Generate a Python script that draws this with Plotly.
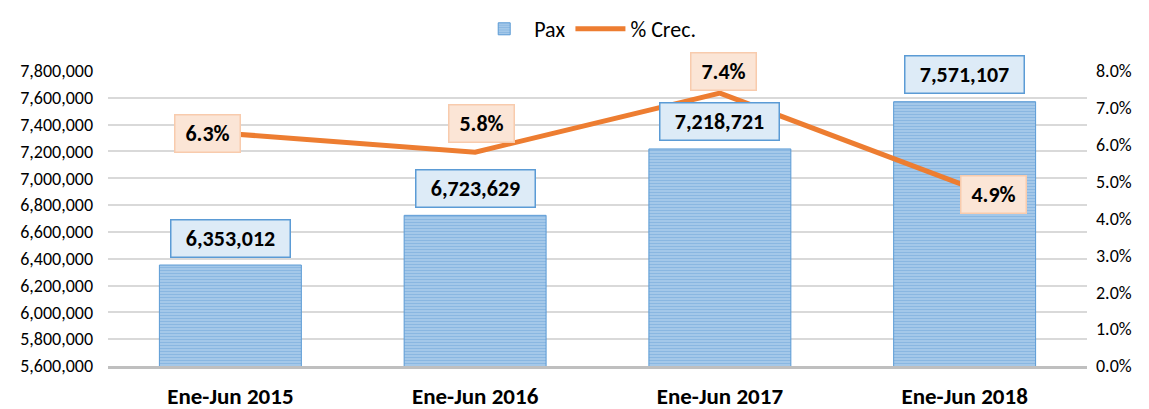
import plotly.graph_objects as go

categories = ["Ene-Jun 2015", "Ene-Jun 2016", "Ene-Jun 2017", "Ene-Jun 2018"]
pax = [6353012, 6723629, 7218721, 7571107]
crec = [0.063, 0.058, 0.074, 0.049]

left_ticks = list(range(5600000, 7800001, 200000))
right_ticks = [i / 100 for i in range(0, 9)]

FONT = "Carlito, Calibri, Lato, sans-serif"

fig = go.Figure()
fig.add_trace(go.Bar(
    x=categories, y=pax, name="Pax",
    marker=dict(
        color="#5B9BD5",
        line=dict(color="#5B9BD5", width=1),
        pattern=dict(shape="-", size=3, solidity=0.7,
                     fgcolor="#4F93D2", bgcolor="#C4DBF1", fillmode="overlay"),
    ),
    width=0.58,
))
fig.add_trace(go.Scatter(
    x=categories, y=crec, name="% Crec.", yaxis="y2",
    mode="lines", line=dict(color="#ED7D31", width=5),
))

# bar value labels
for c, v in zip(categories, pax):
    fig.add_annotation(
        x=c, y=v, xref="x", yref="y", text=f"{v:,}",
        showarrow=False, yshift=27, width=116, height=34,
        font=dict(family=FONT, size=22, color="#000000", weight="bold"),
        bgcolor="#DDEBF7", bordercolor="#5B9BD5", borderwidth=1.5,
    )

# percentage labels
pct_shift = [(-23, 0), (6, 29), (4, 22), (29, -9)]
for c, v, (dx, dy) in zip(categories, crec, pct_shift):
    fig.add_annotation(
        x=c, y=v, xref="x", yref="y2", text=f"{v*100:.1f}%",
        showarrow=False, xshift=dx, yshift=dy, width=62, height=34,
        font=dict(family=FONT, size=22, color="#000000", weight="bold"),
        bgcolor="#FBE5D6", bordercolor="#F8CBAD", borderwidth=1.5,
    )

fig.update_layout(
    width=1141, height=401,
    margin=dict(l=100, r=62, t=63, b=43, autoexpand=False),
    paper_bgcolor="white", plot_bgcolor="white",
    font=dict(family=FONT, size=18, color="#000000"),
    showlegend=True,
    legend=dict(orientation="h", x=0.49, xanchor="center", y=1.0, yanchor="top",
                yref="container", font=dict(size=22, family=FONT),
                itemwidth=50, tracegroupgap=0),
    bargap=0.42,
    xaxis=dict(
        showline=True, linecolor="#BFBFBF", linewidth=3,
        tickfont=dict(family=FONT, size=23, color="#000000", weight="bold"),
        ticklabelstandoff=7, showgrid=False,
    ),
    yaxis=dict(
        range=[5600000, 7800000], tickvals=left_ticks,
        tickformat=",", showgrid=True, gridcolor="#D9D9D9", gridwidth=1.5,
        zeroline=False, tickfont=dict(family=FONT, size=18),
        ticklabelstandoff=14,
    ),
    yaxis2=dict(
        range=[0, 0.08], tickvals=right_ticks, tickformat=".1%",
        overlaying="y", side="right", showgrid=False, zeroline=False,
        tickfont=dict(family=FONT, size=18), ticklabelstandoff=8,
    ),
)

fig.write_html("out.html")
